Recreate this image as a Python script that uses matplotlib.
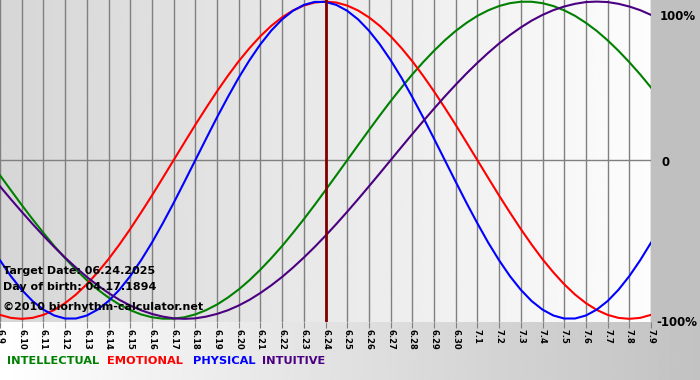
import numpy as np
import matplotlib
matplotlib.use("Agg")
from matplotlib import pyplot as plt

# day labels 6.9 .. 7.9 (target date 6.24 in the middle)
day_labels = [f"6.{d}" for d in range(9, 31)] + [f"7.{d}" for d in range(1, 10)]
target_idx = 15

# values every half day (fraction of 100%)
intellectual = [-0.095, -0.189, -0.282, -0.372, -0.458, -0.541, -0.618, -0.690, -0.756, -0.815,
                -0.866, -0.910, -0.945, -0.972, -0.990, -0.999, -0.999, -0.990, -0.972, -0.945,
                -0.910, -0.866, -0.815, -0.756, -0.690, -0.618, -0.541, -0.458, -0.372, -0.282,
                -0.189, -0.095, 0.000, 0.095, 0.189, 0.282, 0.372, 0.458, 0.541, 0.618,
                0.690, 0.756, 0.815, 0.866, 0.910, 0.945, 0.972, 0.990, 0.999, 0.999,
                0.990, 0.972, 0.945, 0.910, 0.866, 0.815, 0.756, 0.690, 0.618, 0.541, 0.458]
emotional = [-0.975, -0.994, -1.000, -0.994, -0.975, -0.944, -0.901, -0.847, -0.782, -0.707,
             -0.624, -0.532, -0.434, -0.330, -0.223, -0.112, 0.000, 0.112, 0.223, 0.330,
             0.434, 0.532, 0.624, 0.707, 0.782, 0.847, 0.901, 0.944, 0.975, 0.994,
             1.000, 0.994, 0.975, 0.944, 0.901, 0.847, 0.782, 0.707, 0.624, 0.532,
             0.434, 0.330, 0.223, 0.112, 0.000, -0.112, -0.223, -0.330, -0.434, -0.532,
             -0.624, -0.707, -0.782, -0.847, -0.901, -0.944, -0.975, -0.994, -1.000, -0.994, -0.975]
physical = [-0.631, -0.731, -0.817, -0.888, -0.942, -0.979, -0.998, -0.998, -0.979, -0.942,
            -0.888, -0.817, -0.731, -0.631, -0.520, -0.398, -0.270, -0.136, 0.000, 0.136,
            0.270, 0.398, 0.520, 0.631, 0.731, 0.817, 0.888, 0.942, 0.979, 0.998,
            0.998, 0.979, 0.942, 0.888, 0.817, 0.731, 0.631, 0.520, 0.398, 0.270,
            0.136, 0.000, -0.136, -0.270, -0.398, -0.520, -0.631, -0.731, -0.817, -0.888,
            -0.942, -0.979, -0.998, -0.998, -0.979, -0.942, -0.888, -0.817, -0.731, -0.631, -0.520]
intuitive = [-0.165, -0.246, -0.325, -0.402, -0.476, -0.547, -0.614, -0.677, -0.736, -0.789,
             -0.837, -0.880, -0.916, -0.946, -0.969, -0.986, -0.997, -1.000, -0.997, -0.986,
             -0.969, -0.946, -0.916, -0.880, -0.837, -0.789, -0.736, -0.677, -0.614, -0.547,
             -0.476, -0.402, -0.325, -0.246, -0.165, -0.083, 0.000, 0.083, 0.165, 0.246,
             0.325, 0.402, 0.476, 0.547, 0.614, 0.677, 0.736, 0.789, 0.837, 0.880,
             0.916, 0.946, 0.969, 0.986, 0.997, 1.000, 0.997, 0.986, 0.969, 0.946, 0.916]

series = [
    ("INTELLECTUAL", intellectual, "#008000"),
    ("EMOTIONAL", emotional, "#ff0000"),
    ("PHYSICAL", physical, "#0000ff"),
    ("INTUITIVE", intuitive, "#4b0082"),
]

W, H = 700, 380
fig = plt.figure(figsize=(W / 100, H / 100), dpi=100, facecolor="#c0c0c0")

# bottom strip: white -> gray gradient
px_left, px_right, px_top, px_bottom = 0, 651, 0, 322
bg = fig.add_axes([0, 0, 1, 1 - px_bottom / H], zorder=-5)
bg.set_axis_off()
grad = np.linspace(1.0, 0.76, 256)[None, :]
bg.imshow(grad, cmap="gray", vmin=0, vmax=1, aspect="auto", extent=[0, 1, 0, 1])
bg.set_xlim(0, 1)
bg.set_ylim(0, 1)

ax = fig.add_axes([px_left / W, 1 - px_bottom / H, (px_right - px_left) / W, (px_bottom - px_top) / H])
days = np.arange(len(day_labels))
xs = np.arange(len(physical)) / 2.0
ax.set_xlim(0, len(day_labels) - 1)
ax.set_ylim(-1.02, 1.01)

# plot area gradient
pgrad = np.linspace(0.84, 0.99, 256)[None, :]
ax.imshow(pgrad, cmap="gray", vmin=0, vmax=1, aspect="auto",
          extent=[0, len(day_labels) - 1, -1.02, 1.01], zorder=0)

for xi in days:
    ax.axvline(xi, color="#808080", lw=1.0, zorder=1)
ax.axhline(0, color="#808080", lw=1.0, zorder=1)

for name, vals, col in series:
    ax.plot(xs, vals, color=col, lw=1.5, zorder=3)

ax.axvline(target_idx, color="#800000", lw=2.0, zorder=4)

for s in ax.spines.values():
    s.set_visible(False)
ax.set_yticks([])
ax.set_xticks(days)
ax.set_xticklabels(day_labels, rotation=-90, fontsize=6, fontweight="bold")
ax.tick_params(axis="x", length=4, color="#808080", pad=1)

# right side labels
fig.text(660 / W, 1 - 16 / H, "100%", fontsize=8.5, fontweight="bold", va="center", ha="left")
fig.text(662 / W, 1 - 162 / H, "0", fontsize=8.5, fontweight="bold", va="center", ha="left")
fig.text(656 / W, 1 - 322 / H, "-100%", fontsize=8.5, fontweight="bold", va="center", ha="left")

# info texts
info_font = 8
fig.text(3 / W, 1 - 271 / H, "Target Date: 06.24.2025", fontsize=info_font, fontweight="bold", va="center")
fig.text(3 / W, 1 - 287 / H, "Day of birth: 04.17.1894", fontsize=info_font, fontweight="bold", va="center")
fig.text(3 / W, 1 - 307 / H, "\u00a92010 biorhythm-calculator.net", fontsize=info_font, fontweight="bold", va="center")

# legend as coloured words
leg_x = [7, 107, 193, 262]
for (name, vals, col), lx in zip(series, leg_x):
    fig.text(lx / W, 1 - 361 / H, name, fontsize=8.2, fontweight="bold", color=col, va="center")

fig.savefig("out.png", dpi=100, facecolor=fig.get_facecolor())
